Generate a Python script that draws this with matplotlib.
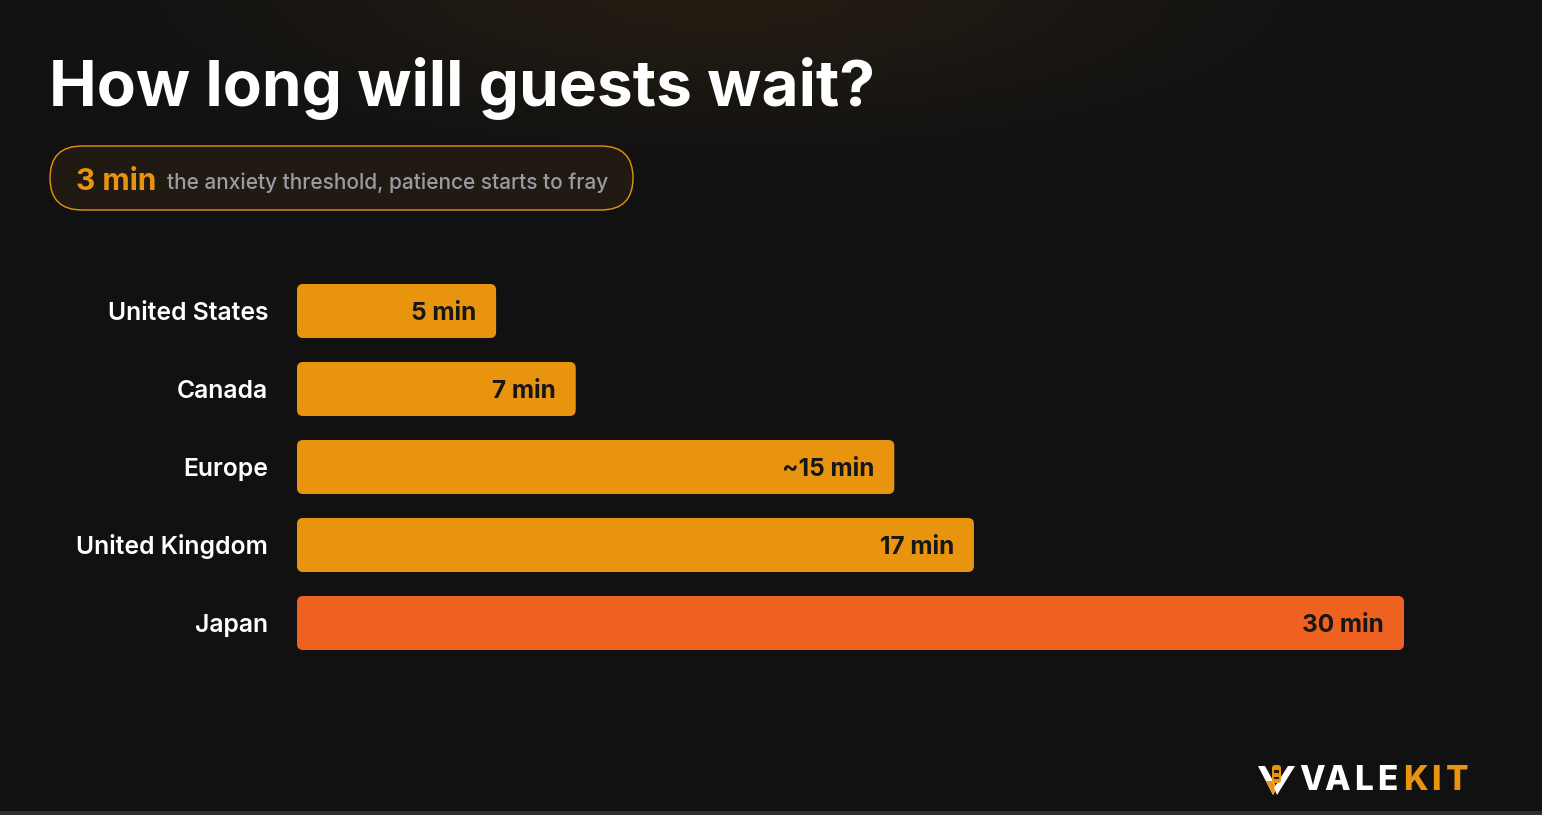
import numpy as np
import matplotlib
matplotlib.use("Agg")
import matplotlib.pyplot as plt
from matplotlib.patches import FancyBboxPatch, Polygon, Rectangle

# data
countries = ["United States", "Canada", "Europe", "United Kingdom", "Japan"]
wait_min = [5, 7, 15, 17, 30]
wait_labels = ["5 min", "7 min", "~15 min", "17 min", "30 min"]
bar_colors = ["#E8940F", "#E8940F", "#E8940F", "#E8940F", "#EE6120"]
track_max = 27.8  # bar track is full at ~28 min, Japan gets capped

W, H = 1542, 815
FONT = "Inter"
ORANGE = "#E8940F"

fig = plt.figure(figsize=(W / 100, H / 100), dpi=100)
fig.patch.set_facecolor("#111111")

# background with a soft warm glow at the top, pixel coords (y down)
bg = fig.add_axes([0, 0, 1, 1], zorder=0)
bg.axis("off")
yy, xx = np.mgrid[0:H, 0:W]
g = np.exp(-(((xx - 720) / 430.0) ** 2 + ((yy + 10) / 120.0) ** 2))
base = np.array([17, 17, 17]) / 255
glow = np.array([35, 28, 19]) / 255
img = base + (glow - base) * g[..., None]
bg.imshow(img, extent=[0, W, H, 0], aspect="auto", interpolation="bilinear")
bg.set_xlim(0, W)
bg.set_ylim(H, 0)
bg.add_patch(Rectangle((0, 811), W, 4, color="#2e2e2e", lw=0))

# title
bg.text(49, 106, "How long will guests wait?", fontsize=46, fontweight="bold",
        color="white", family=FONT, va="baseline", ha="left")

# threshold pill
pill = FancyBboxPatch((50, 146), 583, 64, boxstyle="round,pad=0,rounding_size=32",
                      facecolor="#211a12", edgecolor=ORANGE, lw=1.0)
bg.add_patch(pill)
bg.text(76, 190, "3 min", fontsize=21.5, fontweight="bold", color=ORANGE,
        family=FONT, va="baseline")
bg.text(167, 189, "the anxiety threshold, patience starts to fray", fontsize=15,
        fontweight="medium", color="#9b9ba6", family=FONT, va="baseline")

# logo
lx, ly = 1258, 766
bg.add_patch(Polygon([[lx, ly], [lx + 7, ly], [lx + 19, ly + 22], [lx + 15, ly + 29]],
                     closed=True, color="white", lw=0))
bg.add_patch(Polygon([[lx + 8, ly + 15], [lx + 14, ly + 15], [lx + 19, ly + 22], [lx + 15, ly + 29]],
                     closed=True, color=ORANGE, lw=0))
bg.add_patch(Polygon([[lx + 30, ly], [lx + 37, ly], [lx + 19, ly + 29], [lx + 16, ly + 22]],
                     closed=True, color="white", lw=0))
bg.add_patch(FancyBboxPatch((lx + 14, ly - 1), 9, 18, boxstyle="round,pad=0,rounding_size=3",
                            color=ORANGE, lw=0))
bg.add_patch(Rectangle((lx + 16, ly + 4), 5, 3, color="#2a1c05", lw=0))
bg.add_patch(Rectangle((lx + 16, ly + 11), 5, 2, color="#2a1c05", lw=0))
logo_letters = list("VALEKIT")
logo_x = [1312, 1337, 1364, 1387, 1415, 1436, 1457]
for k, (ch, cx) in enumerate(zip(logo_letters, logo_x)):
    bg.text(cx, 790, ch, fontsize=24, fontweight="heavy",
            color="white" if k < 4 else ORANGE, family=FONT, va="baseline", ha="center")

# bars
px_x = 1107 / track_max
px_y = 78.0
ax = fig.add_axes([297 / W, (H - 662) / H, 1107 / W, 390 / H], zorder=1)
ax.set_facecolor("none")
ax.axis("off")
ax.set_xlim(0, track_max)
ax.set_ylim(4.5, -0.5)

ypos = np.arange(len(countries))
bars = ax.barh(ypos, np.minimum(wait_min, track_max), height=54 / px_y, color=bar_colors)
for b, c in zip(bars, bar_colors):
    x0, y0, w, h = b.get_x(), b.get_y(), b.get_width(), b.get_height()
    b.set_visible(False)
    ax.add_patch(FancyBboxPatch((x0, y0), w, h,
                                boxstyle=f"round,pad=0,rounding_size={6 / px_x}",
                                mutation_aspect=px_x / px_y, facecolor=c, lw=0))

for i, (name, lab, b) in enumerate(zip(countries, wait_labels, bars)):
    ax.text(-29 / px_x, i + 9 / px_y, name, ha="right", va="baseline", fontsize=17.8,
            fontweight="semibold", color="white", family=FONT, clip_on=False)
    ax.text(b.get_width() - 20 / px_x, i + 9 / px_y, lab, ha="right", va="baseline",
            fontsize=17.5, fontweight="bold", color="#161616", family=FONT)

fig.savefig("out.png", dpi=100, facecolor=fig.get_facecolor())
